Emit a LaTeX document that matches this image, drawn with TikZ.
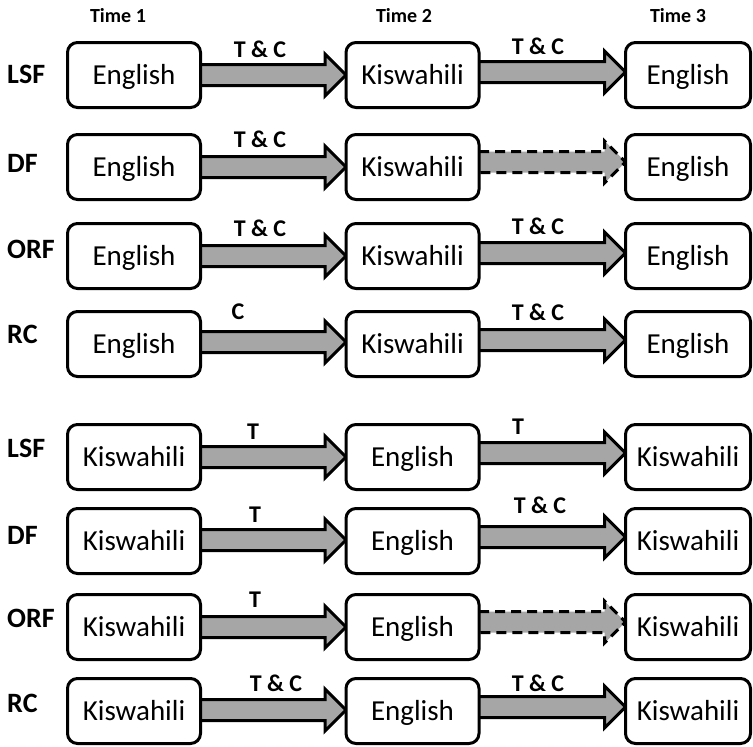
\documentclass[tikz,border=0pt]{standalone}
\usepackage{fontspec}
\setmainfont{Carlito}
\usetikzlibrary{calc,backgrounds}
\definecolor{arrowgray}{RGB}{166,166,166}
\tikzset{
 lang/.style={draw=black, line width=3pt, rounded corners=10pt, fill=white,
   minimum width=133pt, minimum height=65pt, inner sep=0pt, outer sep=0pt,
   font=\fontsize{29}{31}\selectfont, text height=18.7pt, text depth=0pt},
 langlast/.style={lang, minimum width=125pt},
 rowlab/.style={font=\fontsize{28}{30}\selectfont\bfseries, anchor=west, inner sep=0pt},
 timelab/.style={font=\fontsize{20}{22}\selectfont\bfseries, inner sep=0pt},
 arrlab/.style={font=\fontsize{24}{26}\selectfont\bfseries, inner sep=0pt},
 blockarr/.style={draw=black, line width=3pt, fill=arrowgray, line join=miter},
 dasharr/.style={blockarr, dash pattern=on 10pt off 6pt},
}
\newcommand\blockarrow[4][blockarr]{%
 \filldraw[#1] let \p1=(#2.east), \p2=(#3.west) in
 (\x1,\y1+#4+10.5pt) -- (\x2-21pt,\y1+#4+10.5pt) -- (\x2-21pt,\y1+#4+21pt)
 -- (\x2,\y1+#4) -- (\x2-21pt,\y1+#4-21pt) -- (\x2-21pt,\y1+#4-10.5pt)
 -- (\x1,\y1+#4-10.5pt);}
\begin{document}
\begin{tikzpicture}[x=1pt,y=-1pt]
\useasboundingbox (0,0) rectangle (753,747);
% time headers
\node[timelab] (t1) at (118,16) {Time 1};
\node[timelab] (t2) at (404,16) {Time 2};
\node[timelab] (t3) at (678,16) {Time 3};
% row labels
\node[rowlab] (l1) at (7,74) {LSF};
\node[rowlab] (l2) at (7,163) {DF};
\node[rowlab] (l3) at (7,249) {ORF};
\node[rowlab] (l4) at (7,334) {RC};
\node[rowlab] (l5) at (7,448) {LSF};
\node[rowlab] (l6) at (7,535) {DF};
\node[rowlab] (l7) at (7,618) {ORF};
\node[rowlab] (l8) at (7,703) {RC};
% boxes
\node[lang] (a1) at (134,75) {English};
\node[lang] (b1) at (412.5,75) {Kiswahili};
\node[langlast] (c1) at (688,75) {English};
\node[lang] (a2) at (134,167) {English};
\node[lang] (b2) at (412.5,167) {Kiswahili};
\node[langlast] (c2) at (688,167) {English};
\node[lang] (a3) at (134,256) {English};
\node[lang] (b3) at (412.5,256) {Kiswahili};
\node[langlast] (c3) at (688,256) {English};
\node[lang] (a4) at (134,344) {English};
\node[lang] (b4) at (412.5,344) {Kiswahili};
\node[langlast] (c4) at (688,344) {English};
\node[lang] (a5) at (134,457) {Kiswahili};
\node[lang] (b5) at (412.5,457) {English};
\node[langlast] (c5) at (688,457) {Kiswahili};
\node[lang] (a6) at (134,541) {Kiswahili};
\node[lang] (b6) at (412.5,541) {English};
\node[langlast] (c6) at (688,541) {Kiswahili};
\node[lang] (a7) at (134,627) {Kiswahili};
\node[lang] (b7) at (412.5,627) {English};
\node[langlast] (c7) at (688,627) {Kiswahili};
\node[lang] (a8) at (134,711) {Kiswahili};
\node[lang] (b8) at (412.5,711) {English};
\node[langlast] (c8) at (688,711) {Kiswahili};
% arrows
\begin{scope}[on background layer]
\blockarrow{a1}{b1}{0pt}  \blockarrow{b1}{c1}{3pt}
\blockarrow{a2}{b2}{0pt}  \blockarrow[dasharr]{b2}{c2}{5pt}
\blockarrow{a3}{b3}{0pt}  \blockarrow{b3}{c3}{3pt}
\blockarrow{a4}{b4}{2pt}  \blockarrow{b4}{c4}{4pt}
\blockarrow{a5}{b5}{0pt}  \blockarrow{b5}{c5}{4pt}
\blockarrow{a6}{b6}{1pt}  \blockarrow{b6}{c6}{4pt}
\blockarrow{a7}{b7}{0pt}  \blockarrow[dasharr]{b7}{c7}{5pt}
\blockarrow{a8}{b8}{1pt}  \blockarrow{b8}{c8}{4pt}
\end{scope}
% arrow labels
\node[arrlab] (x1) at (260,49) {T \& C};
\node[arrlab] (y1) at (538,46) {T \& C};
\node[arrlab] (x2) at (260,139) {T \& C};
\node[arrlab] (x3) at (260,228) {T \& C};
\node[arrlab] (y3) at (538,226) {T \& C};
\node[arrlab] (x4) at (238,312) {C};
\node[arrlab] (y4) at (538,312) {T \& C};
\node[arrlab] (x5) at (253,432) {T};
\node[arrlab] (y5) at (518,427) {T};
\node[arrlab] (x6) at (255,515) {T};
\node[arrlab] (y6) at (540,505) {T \& C};
\node[arrlab] (x7) at (255,600) {T};
\node[arrlab] (x8) at (276,683) {T \& C};
\node[arrlab] (y8) at (538,683) {T \& C};
\end{tikzpicture}
\end{document}
